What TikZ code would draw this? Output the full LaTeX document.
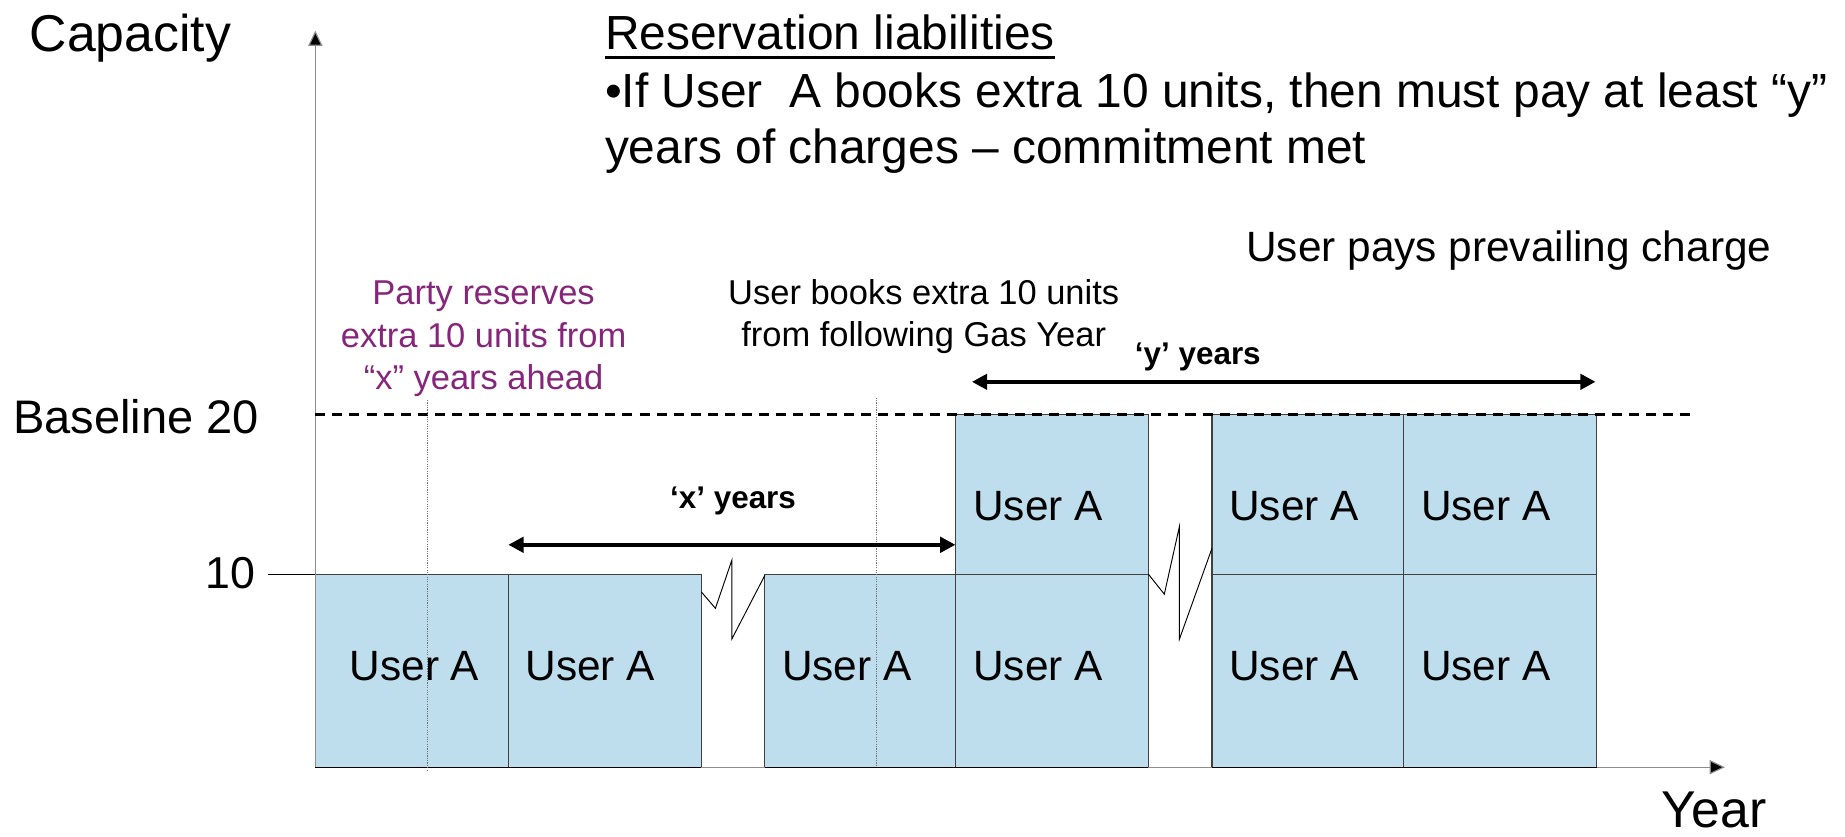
\documentclass[tikz,border=0pt]{standalone}
\usepackage{fontspec}
\setmainfont{Liberation Sans}
\usetikzlibrary{arrows.meta}
\definecolor{boxblue}{RGB}{190,221,237}
\definecolor{purp}{RGB}{134,38,122}
\begin{document}
\begin{tikzpicture}[x=1pt,y=-1pt,
  ubox/.style={draw=black!75, line width=1pt, fill=boxblue, inner sep=0pt, outer sep=0pt, anchor=north west},
  lowbox/.style={ubox, minimum width=164pt, minimum height=164pt},
  highbox/.style={ubox, minimum width=164pt, minimum height=136pt},
  ulabel/.style={anchor=base west, inner sep=0pt, font=\fontsize{36}{43}\selectfont},
  axis/.style={draw=black!45, line width=1pt, -{Triangle[length=13pt,width=12pt,fill=black]}},
  span/.style={line width=3.2pt, {Triangle[length=13pt,width=13pt]}-{Triangle[length=13pt,width=13pt]}},
  guide/.style={draw=black!55, line width=1pt, dash pattern=on 1pt off 1pt},
  zig/.style={draw=black, line width=0.8pt},
  small/.style={inner sep=0pt, font=\fontsize{29.3}{36}\selectfont, align=center},
  years/.style={anchor=base, inner sep=0pt, font=\fontsize{26.7}{32}\selectfont\bfseries},
  big/.style={inner sep=0pt, font=\fontsize{40.7}{48}\selectfont}]
\useasboundingbox (0,0) rectangle (1568,711);

% boxes
\node[lowbox] (b1) at (268,488) {};
\node[lowbox] (b2) at (432,488) {};
\node[lowbox] (b3) at (650,488) {};
\node[lowbox] (b4) at (812,488) {};
\node[lowbox] (b5) at (1030,488) {};
\node[lowbox] (b6) at (1193,488) {};
\node[highbox] (t4) at (812,352) {};
\node[highbox] (t5) at (1030,352) {};
\node[highbox] (t6) at (1193,352) {};

% box labels
\node[ulabel] (l1) at (297,578) {User A};
\node[ulabel] (l2) at (446.5,578) {User A};
\node[ulabel] (l3) at (664.5,578) {User A};
\node[ulabel] (l4) at (827,578) {User A};
\node[ulabel] (l5) at (1044.5,578) {User A};
\node[ulabel] (l6) at (1207.5,578) {User A};
\node[ulabel] (u4) at (827,442) {User A};
\node[ulabel] (u5) at (1044.5,442) {User A};
\node[ulabel] (u6) at (1207.5,442) {User A};

% axes
\coordinate (O) at (268,652);
\coordinate (ytop) at (268,26);
\coordinate (xend) at (1466,652);
\draw[axis] (O) -- (ytop);
\draw[axis] (O) -- (xend);
\draw[black, line width=1pt] (b1.south west) -- (b2.south east);
\draw[black, line width=1pt] (b3.south west) -- (b4.south east);
\draw[black, line width=1pt] (b5.south west) -- (b6.south east);

% tick at 10
\coordinate (tick) at (228,488);
\draw[black, line width=1pt] (tick) -- (b1.north west);

% baseline 20 dashed
\coordinate (d0) at (268,352);
\coordinate (d1) at (1440,352);
\draw[black, line width=2.5pt, dash pattern=on 8.5pt off 6pt] (d0) -- (d1);

% dotted guides
\coordinate (g1a) at (363,340);
\coordinate (g1b) at (363,655);
\coordinate (g2a) at (745,338);
\coordinate (g2b) at (745,652);
\draw[guide] (g1a) -- (g1b);
\draw[guide] (g2a) -- (g2b);

% break marks
\coordinate (z1a) at (608,517);
\coordinate (z1b) at (622,476);
\coordinate (z1c) at (622,543);
\coordinate (z1d) at (650,489);
\draw[zig] ([yshift=-15pt]b2.north east) -- (z1a) -- (z1b) -- (z1c) -- (z1d);
\coordinate (z2a) at (989.5,505);
\coordinate (z2b) at (1002.3,447.6);
\coordinate (z2c) at (1002.3,543.3);
\coordinate (z2d) at (1030,466);
\draw[zig] (b4.north east) -- (z2a) -- (z2b) -- (z2c) -- (z2d);

% span arrows
\coordinate (xs) at (432,463);
\coordinate (xe) at (812,463);
\draw[span] (xs) -- (xe);
\coordinate (ys) at (826,324.5);
\coordinate (ye) at (1356,324.5);
\draw[span] (ys) -- (ye);
\node[years] (xlab) at (623,432) {‘x’ years};
\node[years] (ylab) at (1018,310) {‘y’ years};

% axis labels
\node[anchor=base west, inner sep=0pt, font=\fontsize{44}{52}\selectfont] (cap) at (25,44) {Capacity};
\node[anchor=base west, inner sep=0pt, font=\fontsize{44}{52}\selectfont] (year) at (1412,703) {Year};
\node[anchor=base west, inner sep=0pt, font=\fontsize{40}{48}\selectfont] (base20) at (11,368) {Baseline 20};
\node[anchor=base east, inner sep=0pt, font=\fontsize{38}{46}\selectfont] (ten) at (217,500) {10};

% heading text
\node[big, anchor=base west] (title) at (514,42) {Reservation liabilities};
\draw[black, line width=2.4pt] ([yshift=-7pt]title.base west) -- ([yshift=-7pt]title.base east);
\node[big, anchor=base west] (bl1) at (514,91) {•If User\ \ A books extra 10 units, then must pay at least “y”};
\node[big, anchor=base west] (bl2) at (514,139) {years of charges – commitment met};
\node[anchor=base west, inner sep=0pt, font=\fontsize{36}{43}\selectfont] (pays) at (1059,222) {User pays prevailing charge};

% annotations
\node[small, text=purp] (party) at (411,288) {Party reserves\\extra 10 units from\\“x” years ahead};
\node[small] (books) at (785,269) {User books extra 10 units\\from following Gas Year};
\end{tikzpicture}
\end{document}
